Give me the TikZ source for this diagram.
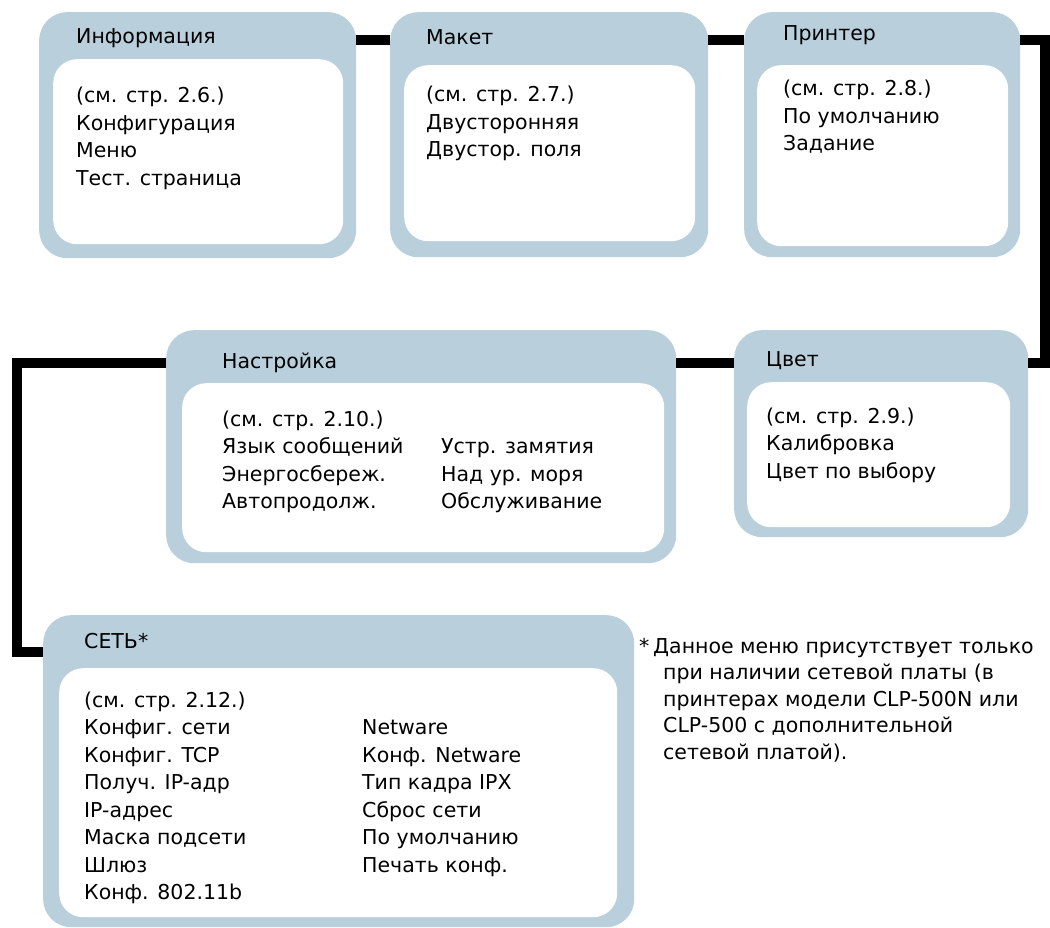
\documentclass[tikz,border=0pt]{standalone}
\usepackage{fontspec}
\setmainfont{DejaVu Sans}
\usepackage{xcolor}
\usetikzlibrary{positioning}
\definecolor{menublue}{RGB}{185,208,220}

\tikzset{
  menubox/.style={fill=menublue,rounded corners=28pt,inner sep=0pt,anchor=north west},
  menubody/.style={fill=white,rounded corners=24pt,inner sep=0pt,anchor=north west},
  menutext/.style={anchor=base west,inner sep=0pt},
  link/.style={line width=10pt,line join=miter}
}

\begin{document}
\begin{tikzpicture}[x=1pt,y=-1pt,font=\fontsize{20.5}{27.5}\selectfont]
    \def\rowgap{27.5}
    \useasboundingbox (0,0) rectangle (1050,928);

    % top row
    \node[menubox,minimum width=317pt,minimum height=246pt] (info) at (39,12) {};
    \node[menubody,minimum width=290pt,minimum height=185pt] (info-body) at (53,59) {};
    \node[menutext] (info-title) at (76,44) {Информация};
    \foreach \txt [count=\i] in {{(см. стр. 2.6.)},Конфигурация,Меню,Тест. страница}
      \node[menutext] (info-\i) at (76,103+\rowgap*\i-\rowgap) {\txt};

    \node[menubox,minimum width=318pt,minimum height=245pt] (layout) at (390,12) {};
    \node[menubody,minimum width=291pt,minimum height=176pt] (layout-body) at (404,65) {};
    \node[menutext] (layout-title) at (426,45) {Макет};
    \foreach \txt [count=\i] in {{(см. стр. 2.7.)},Двусторонняя,Двустор. поля}
      \node[menutext] (layout-\i) at (426,102+\rowgap*\i-\rowgap) {\txt};

    \node[menubox,minimum width=276pt,minimum height=245pt] (printer) at (744,12) {};
    \node[menubody,minimum width=251pt,minimum height=181pt] (printer-body) at (757,65) {};
    \node[menutext] (printer-title) at (783,41) {Принтер};
    \foreach \txt [count=\i] in {{(см. стр. 2.8.)},По умолчанию,Задание}
      \node[menutext] (printer-\i) at (783,96+\rowgap*\i-\rowgap) {\txt};

    % middle row
    \node[menubox,minimum width=510pt,minimum height=233pt] (setup) at (166,330) {};
    \node[menubody,minimum width=482pt,minimum height=169pt] (setup-body) at (182,383) {};
    \node[menutext] (setup-title) at (222,368) {Настройка};
    \foreach \txt [count=\i] in {{(см. стр. 2.10.)},Язык сообщений,Энергосбереж.,Автопродолж.}
      \node[menutext] (setup-\i) at (222,426+\rowgap*\i-\rowgap) {\txt};
    \foreach \txt [count=\i from 2] in {Устр. замятия,Над ур. моря,Обслуживание}
      \node[menutext] (setup-b\i) at (441,426+\rowgap*\i-\rowgap) {\txt};

    \node[menubox,minimum width=294pt,minimum height=207pt] (color) at (734,330) {};
    \node[menubody,minimum width=263pt,minimum height=145pt] (color-body) at (747,382) {};
    \node[menutext] (color-title) at (766,366) {Цвет};
    \foreach \txt [count=\i] in {{(см. стр. 2.9.)},Калибровка,Цвет по выбору}
      \node[menutext] (color-\i) at (766,423+\rowgap*\i-\rowgap) {\txt};

    % bottom row
    \node[menubox,minimum width=591pt,minimum height=312pt] (network) at (43,615) {};
    \node[menubody,minimum width=558pt,minimum height=249pt] (network-body) at (59,668) {};
    \node[menutext] (network-title) at (84,648) {СЕТЬ*};
    \foreach \txt [count=\i] in {{(см. стр. 2.12.)},Конфиг. сети,Конфиг. TCP,Получ. IP-адр,IP-адрес,Маска подсети,Шлюз,Конф. 802.11b}
      \node[menutext] (network-\i) at (84,707+\rowgap*\i-\rowgap) {\txt};
    \foreach \txt [count=\i from 2] in {Netware,Конф. Netware,Тип кадра IPX,Сброс сети,По умолчанию,Печать конф.}
      \node[menutext] (network-b\i) at (362,707+\rowgap*\i-\rowgap) {\txt};

    % footnote
    \node[menutext] (note-star) at (639,653) {*};
    \node[menutext] (note-1) at (653,653) {Данное меню присутствует только};
    \foreach \txt [count=\i from 2] in {при наличии сетевой платы (в,принтерах модели CLP-500N или,CLP-500 с дополнительной,сетевой платой).}
      \node[menutext] (note-\i) at (663,653+26.5*\i-26.5) {\txt};

    % connectors
    \coordinate (rightbend) at (1045,363);
    \coordinate (leftbend) at (17,652);
    \draw[link] ([yshift=-28.5pt]info.north east) -- ([yshift=-28.5pt]layout.north west);
    \draw[link] ([yshift=-28.5pt]layout.north east) -- ([yshift=-28.5pt]printer.north west);
    \draw[link] ([yshift=-28.5pt]printer.north east) -| (rightbend) -- ([yshift=-33pt]color.north east);
    \draw[link] ([yshift=-33pt]color.north west) -- ([yshift=-33pt]setup.north east);
    \draw[link] ([yshift=-33pt]setup.north west) -| (leftbend) -- ([yshift=-37pt]network.north west);
  \end{tikzpicture}
\end{document}
